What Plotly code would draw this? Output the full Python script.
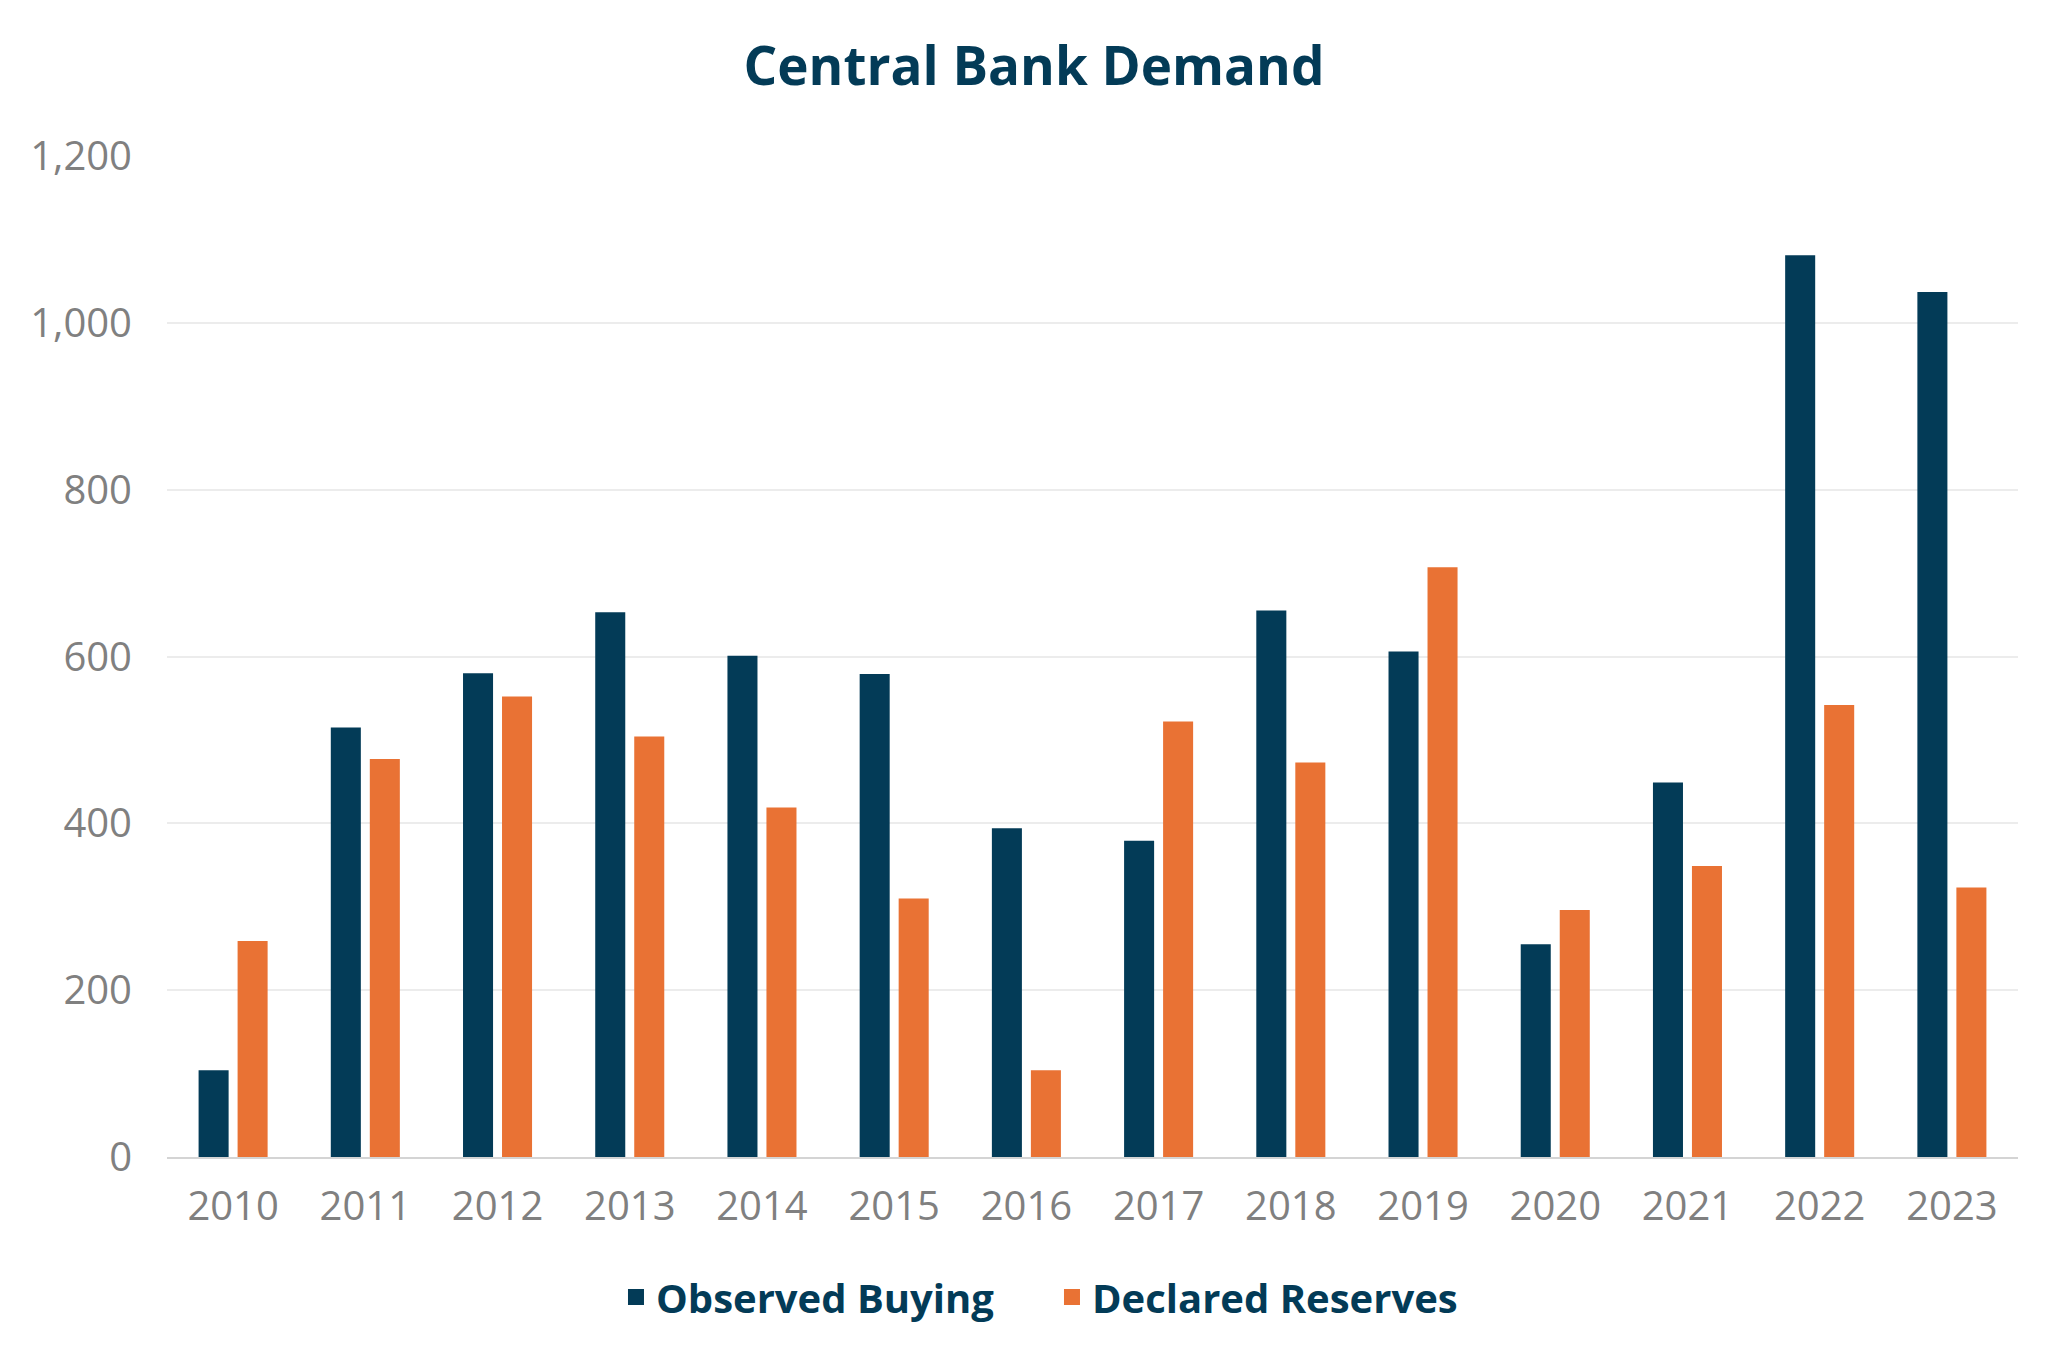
import plotly.graph_objects as go

years = ["2010", "2011", "2012", "2013", "2014", "2015", "2016",
         "2017", "2018", "2019", "2020", "2021", "2022", "2023"]
observed_buying = [104, 515, 580, 653, 601, 579, 394, 379, 655, 606, 255, 449, 1081, 1037]
declared_reserves = [259, 477, 552, 504, 419, 310, 104, 522, 473, 707, 296, 349, 542, 323]
y_ticks = [0, 200, 400, 600, 800, 1000, 1200]
y_tick_labels = ["0", "200", "400", "600", "800", "1,000", "1,200"]

BLUE = "#033b57"
ORANGE = "#e97234"
GRAY = "#808080"
FONT = "Open Sans"
H = 1364

fig = go.Figure()
fig.add_trace(go.Bar(x=years, y=observed_buying, name="Observed Buying",
                     marker=dict(color=BLUE, line=dict(width=0)), showlegend=False))
fig.add_trace(go.Bar(x=years, y=declared_reserves, name="Declared Reserves",
                     marker=dict(color=ORANGE, line=dict(width=0)), showlegend=False))
# legend entries with larger square swatches
fig.add_trace(go.Scatter(x=[None], y=[None], mode="markers", name="Observed Buying",
                         marker=dict(symbol="square", size=16, color=BLUE)))
fig.add_trace(go.Scatter(x=[None], y=[None], mode="markers", name="Declared Reserves",
                         marker=dict(symbol="square", size=16, color=ORANGE)))

fig.update_layout(
    width=2068, height=H,
    margin=dict(l=167, r=50, t=156, b=207, autoexpand=False),
    paper_bgcolor="white", plot_bgcolor="white",
    barmode="group", bargap=0.41, bargroupgap=0.23,
    font=dict(family=FONT, color=GRAY, size=40),
    title=dict(text="<b>Central Bank Demand</b>", x=0.5, xanchor="center",
               xref="container", y=1 - 66 / H, yref="container", yanchor="middle",
               font=dict(family=FONT, size=53, color=BLUE)),
    showlegend=True,
    legend=dict(orientation="h", x=0.5087, xanchor="center", xref="container",
                y=1 - 1297 / H, yref="container", yanchor="middle",
                font=dict(family=FONT, size=40, color=BLUE, weight="bold"),
                itemclick=False, entrywidth=391, entrywidthmode="pixels",
                bgcolor="rgba(0,0,0,0)"),
    xaxis=dict(type="category", showgrid=False, showline=True, linecolor="#d4d4d4",
               linewidth=2, ticks="", ticklabelstandoff=13,
               tickfont=dict(family=FONT, size=40, color=GRAY), zeroline=False),
    yaxis=dict(range=[0, 1200], tickvals=y_ticks, ticktext=y_tick_labels,
               showgrid=True, gridcolor="#ececec", gridwidth=2, zeroline=False,
               showline=False, ticks="", ticklabelstandoff=34,
               tickfont=dict(family=FONT, size=40, color=GRAY)),
)

fig.write_html("out.html")
